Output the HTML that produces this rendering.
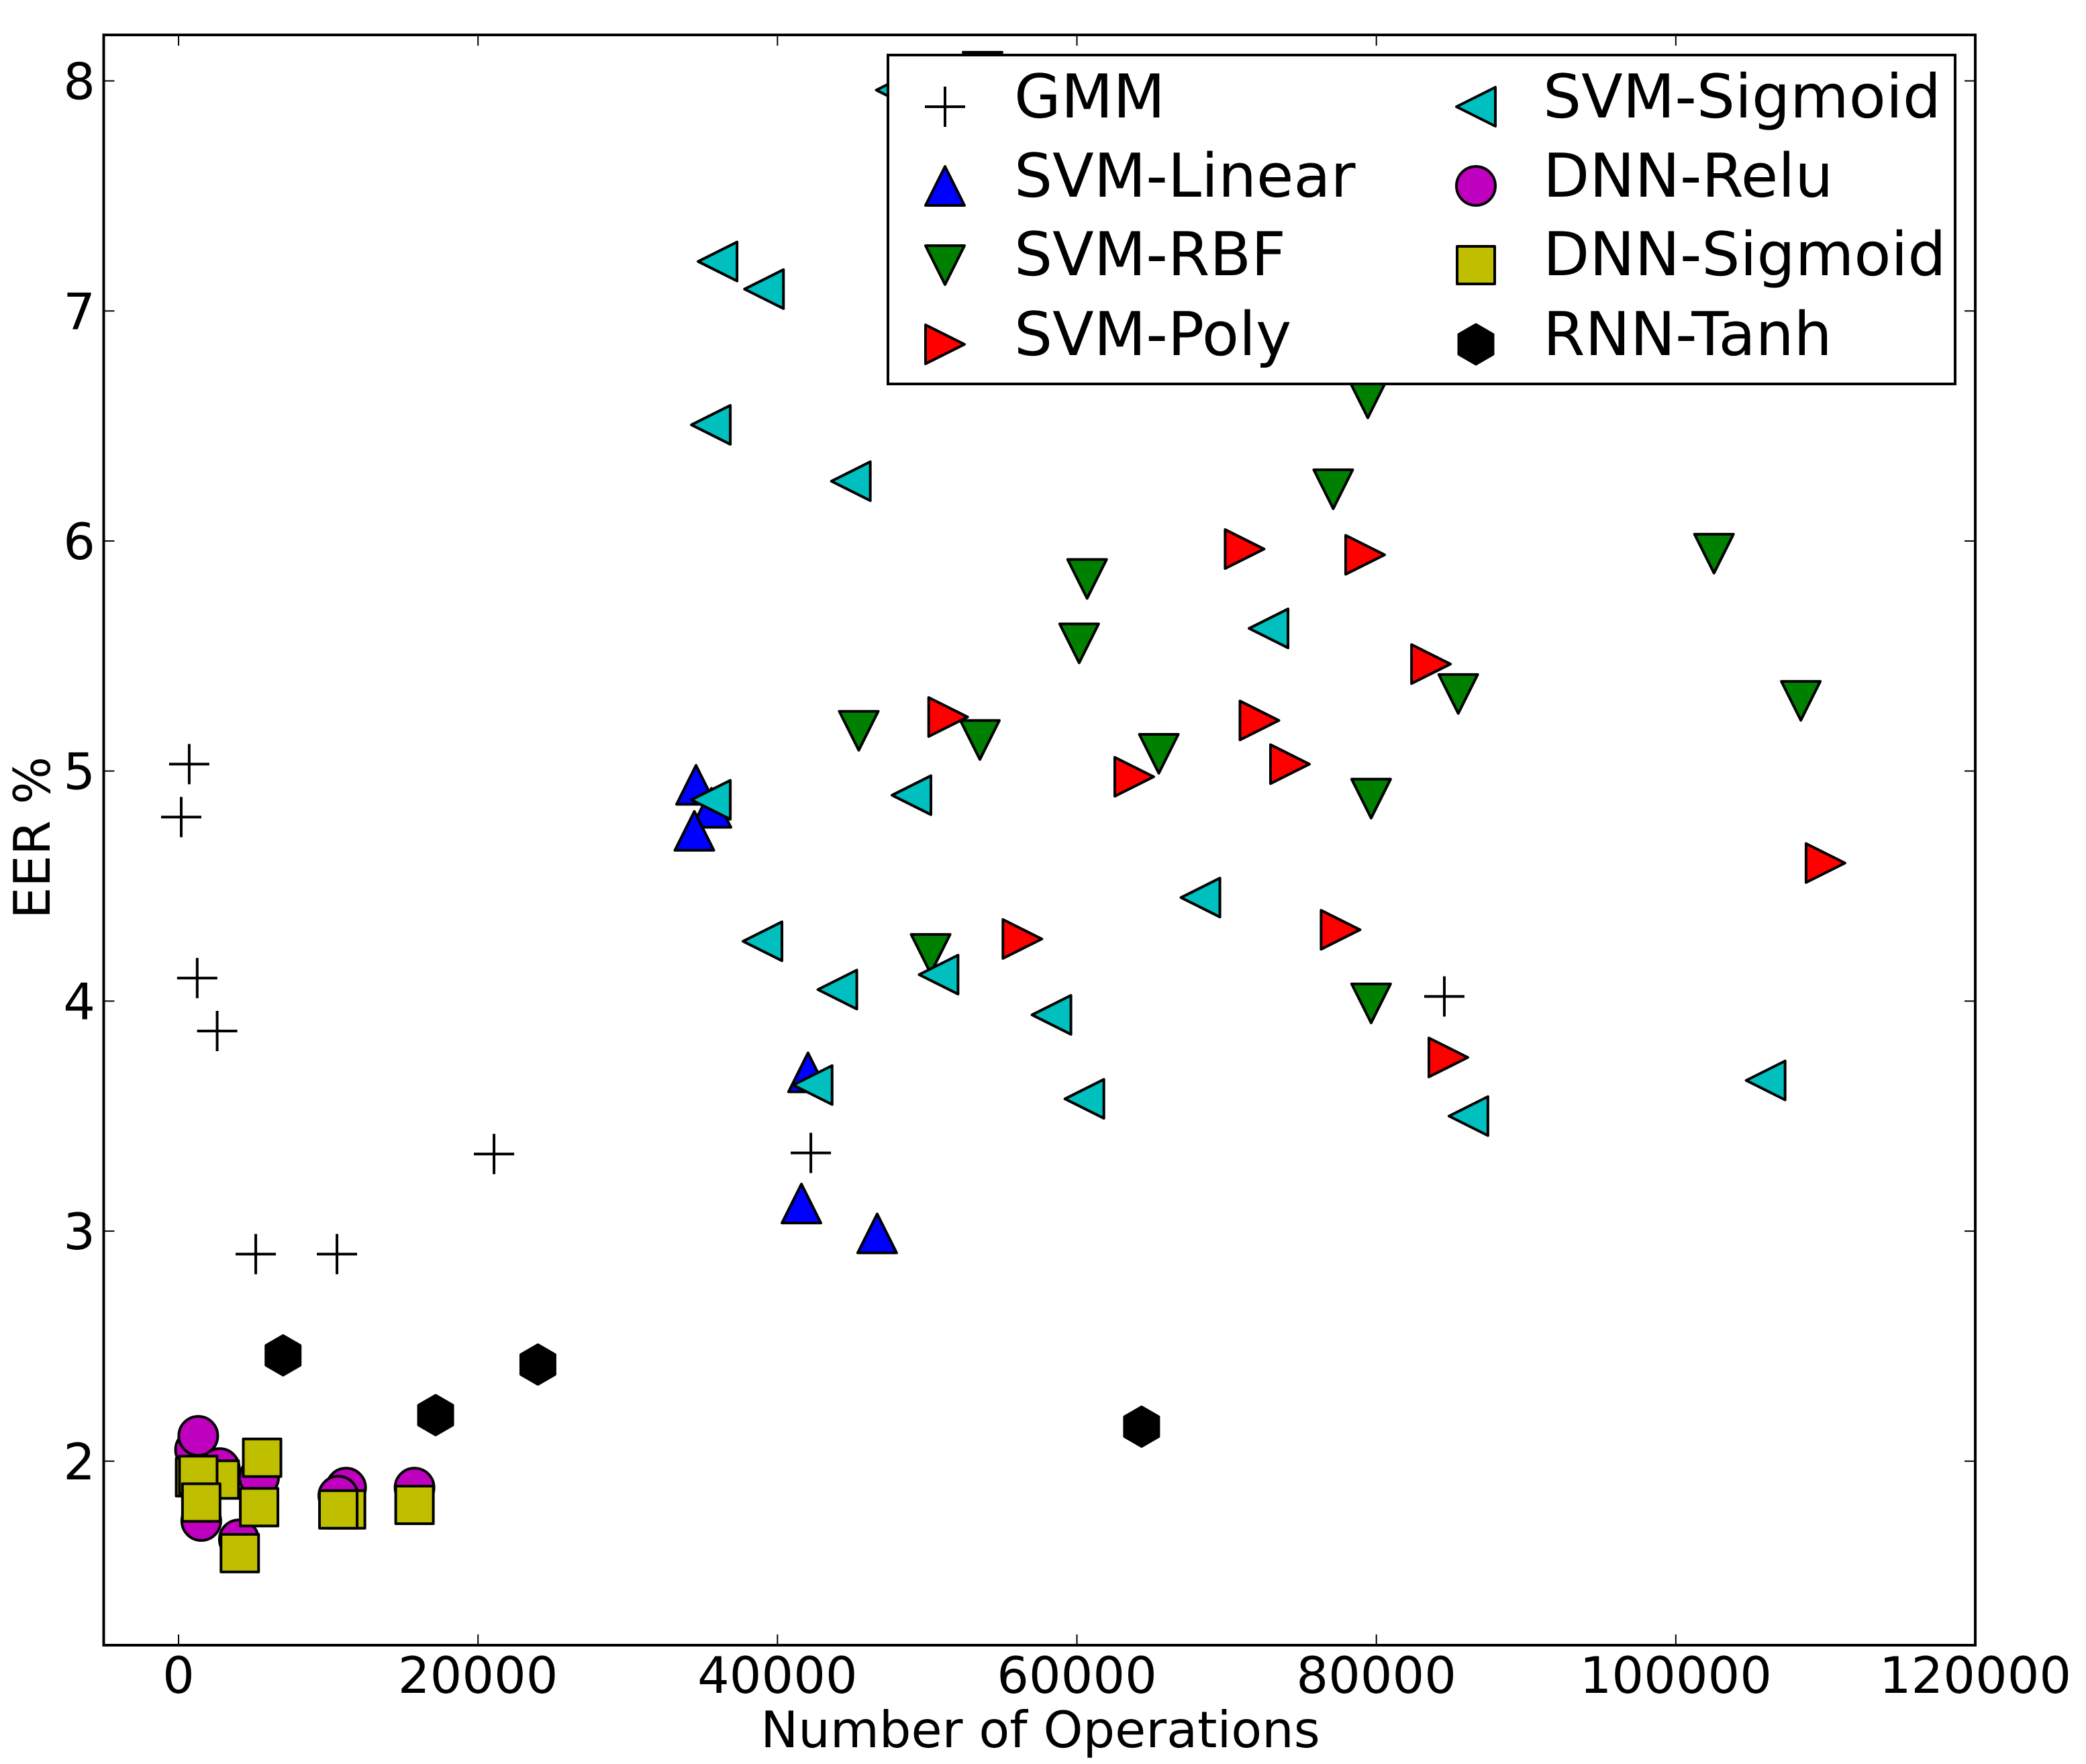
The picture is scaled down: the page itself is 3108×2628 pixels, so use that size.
<!DOCTYPE html>
<html lang="en">
<head>
<meta charset="utf-8">
<title>EER vs Number of Operations</title>
<style>
html,body{margin:0;padding:0;background:#fff;}
svg{display:block;}
text{font-family:"DejaVu Sans","Liberation Sans",sans-serif;fill:#000;text-rendering:geometricPrecision;}
</style>
</head>
<body>
<svg id="chart" xmlns="http://www.w3.org/2000/svg" width="3108" height="2628" viewBox="0 0 3108 2628">
  <rect x="0" y="0" width="3108" height="2628" fill="#fff"/>
  <g id="marks"></g>
  <g id="ticks"></g>
  <rect x="154.5" y="52" width="2788.5" height="2399" fill="none" stroke="#000" stroke-width="4"/>
  <g id="tick-labels" font-size="75"></g>
  <text x="1550" y="2603" font-size="75" text-anchor="middle">Number of Operations</text>
  <text x="74" y="1248" font-size="75" text-anchor="middle" transform="rotate(-90 74 1248)">EER %</text>
  <g id="legend">
    <rect x="1323" y="82" width="1590" height="490" fill="#fff" stroke="#000" stroke-width="4"/>
    <g font-size="90">
      <text x="1511" y="175">GMM</text>
      <text x="1511" y="293">SVM-Linear</text>
      <text x="1511" y="410">SVM-RBF</text>
      <text x="1511" y="529">SVM-Poly</text>
      <text x="2299" y="175">SVM-Sigmoid</text>
      <text x="2299" y="293">DNN-Relu</text>
      <text x="2299" y="410">DNN-Sigmoid</text>
      <text x="2299" y="529">RNN-Tanh</text>
    </g>
  </g>
</svg>
<script>
var xTickValues = [0, 20000, 40000, 60000, 80000, 100000, 120000];
var yTickValues = [2, 3, 4, 5, 6, 7, 8];
var xLimits = [-5000, 120000];
var yLimits = [1.2, 8.2];

var gmmX = [711, 178, 1245, 2578, 5156, 10580, 21070, 42230, 84540];
var gmmY = [5.03, 4.80, 4.10, 3.87, 2.90, 2.90, 3.335, 3.34, 4.02];

var svmLinearX = [34560, 35590, 34450, 42040, 41600, 46660];
var svmLinearY = [4.94, 4.84, 4.74, 3.69, 3.12, 2.99];

var svmRbfX = [53700, 79430, 77120, 60680, 60150, 45430, 53520, 65470, 79650, 50230, 79650, 85470, 102550, 108350];
var svmRbfY = [8.04, 6.62, 6.225, 5.835, 5.555, 5.175, 5.135, 5.075, 4.88, 4.205, 3.99, 5.335, 5.945, 5.305];

var svmPolyX = [71200, 79250, 83650, 51400, 72190, 63830, 74230, 56360, 77610, 84810, 110000];
var svmPolyY = [5.965, 5.94, 5.465, 5.235, 5.22, 4.975, 5.03, 4.27, 4.31, 3.755, 4.60];

var svmSigmoidX = [47900, 36000, 39100, 35550, 44900, 72800, 35550, 48950, 39000, 44000, 50760, 68250, 58300, 60500, 42350, 86150, 106000];
var svmSigmoidY = [7.96, 7.215, 7.095, 6.505, 6.26, 5.62, 4.875, 4.895, 4.26, 4.05, 4.115, 4.45, 3.94, 3.575, 3.635, 3.50, 3.655];

var dnnReluX = [1100, 1316, 2750, 5380, 11190, 10670, 15760, 1516, 4030];
var dnnReluY = [2.05, 2.11, 1.97, 1.93, 1.885, 1.85, 1.885, 1.74, 1.66];

var dnnSigmoidX = [1100, 2750, 1316, 5580, 11190, 10670, 15760, 1516, 5380, 4090];
var dnnSigmoidY = [1.93, 1.92, 1.94, 2.015, 1.79, 1.79, 1.81, 1.82, 1.80, 1.60];

var rnnTanhX = [6980, 17170, 24000, 64320];
var rnnTanhY = [2.46, 2.20, 2.42, 2.15];

var plotLeft = 154.5, plotRight = 2943, plotTop = 52, plotBottom = 2451;
var SVGNS = 'http://www.w3.org/2000/svg';

function xScale(v) {
  return plotLeft + (v - xLimits[0]) * (plotRight - plotLeft) / (xLimits[1] - xLimits[0]);
}
function yScale(v) {
  return plotBottom - (v - yLimits[0]) * (plotBottom - plotTop) / (yLimits[1] - yLimits[0]);
}

function poly(points, cx, cy) {
  var out = [];
  for (var i = 0; i < points.length; i++) {
    out.push((cx + points[i][0]).toFixed(2) + ',' + (cy + points[i][1]).toFixed(2));
  }
  return out.join(' ');
}

function makeMarker(kind, fill, cx, cy, name) {
  var el;
  var r = 29;
  if (kind === 'plus') {
    el = document.createElementNS(SVGNS, 'path');
    el.setAttribute('d', 'M' + (cx - 30) + ' ' + cy + 'H' + (cx + 30) + 'M' + cx + ' ' + (cy - 30) + 'V' + (cy + 30));
    el.setAttribute('fill', 'none');
  } else if (kind === 'circle') {
    el = document.createElementNS(SVGNS, 'circle');
    el.setAttribute('cx', cx);
    el.setAttribute('cy', cy);
    el.setAttribute('r', r);
    el.setAttribute('fill', fill);
  } else if (kind === 'square') {
    el = document.createElementNS(SVGNS, 'rect');
    el.setAttribute('x', cx - 28);
    el.setAttribute('y', cy - 28);
    el.setAttribute('width', 56);
    el.setAttribute('height', 56);
    el.setAttribute('fill', fill);
  } else {
    var pts;
    if (kind === 'up') pts = [[0, -r], [-r, r], [r, r]];
    if (kind === 'down') pts = [[0, r], [-r, -r], [r, -r]];
    if (kind === 'right') pts = [[r, 0], [-r, -r], [-r, r]];
    if (kind === 'left') pts = [[-r, 0], [r, -r], [r, r]];
    if (kind === 'hex') pts = [[0, -29.5], [25.5, -14.75], [25.5, 14.75], [0, 29.5], [-25.5, 14.75], [-25.5, -14.75]];
    el = document.createElementNS(SVGNS, 'polygon');
    el.setAttribute('points', poly(pts, cx, cy));
    el.setAttribute('fill', fill);
  }
  el.setAttribute('stroke', '#000');
  el.setAttribute('stroke-width', 4);
  el.setAttribute('stroke-linejoin', 'round');
  
  
  return el;
}

function drawSeries(kind, fill, xs, ys, name) {
  var marks = document.getElementById('marks');
  var group = document.createElementNS(SVGNS, 'g');
  
  
  for (var i = 0; i < xs.length; i++) {
    group.appendChild(makeMarker(kind, fill, xScale(xs[i]), yScale(ys[i]), name + '-point'));
  }
  marks.appendChild(group);
}

drawSeries('plus', 'none', gmmX, gmmY, 'gmm');
drawSeries('up', '#0000ff', svmLinearX, svmLinearY, 'svm-linear');
drawSeries('down', '#008000', svmRbfX, svmRbfY, 'svm-rbf');
drawSeries('right', '#ff0000', svmPolyX, svmPolyY, 'svm-poly');
drawSeries('left', '#00bfbf', svmSigmoidX, svmSigmoidY, 'svm-sigmoid');
drawSeries('circle', '#bf00bf', dnnReluX, dnnReluY, 'dnn-relu');
drawSeries('square', '#bfbf00', dnnSigmoidX, dnnSigmoidY, 'dnn-sigmoid');
drawSeries('hex', '#000000', rnnTanhX, rnnTanhY, 'rnn-tanh');

function addTick(x1, y1, x2, y2, name) {
  var line = document.createElementNS(SVGNS, 'line');
  line.setAttribute('x1', x1);
  line.setAttribute('y1', y1);
  line.setAttribute('x2', x2);
  line.setAttribute('y2', y2);
  line.setAttribute('stroke', '#000');
  line.setAttribute('stroke-width', 2);
  
  
  document.getElementById('ticks').appendChild(line);
}

function addTickLabel(x, y, anchor, str, name) {
  var t = document.createElementNS(SVGNS, 'text');
  t.setAttribute('x', x);
  t.setAttribute('y', y);
  t.setAttribute('text-anchor', anchor);
  
  
  t.textContent = str;
  document.getElementById('tick-labels').appendChild(t);
}

xTickValues.forEach(function (v) {
  var x = xScale(v);
  addTick(x, plotBottom, x, plotBottom - 16, 'x-tick-bottom');
  addTick(x, plotTop, x, plotTop + 16, 'x-tick-top');
  addTickLabel(x, 2522, 'middle', String(v), 'x-tick-label');
});

yTickValues.forEach(function (v) {
  var y = yScale(v);
  addTick(plotLeft, y, plotLeft + 16, y, 'y-tick-left');
  addTick(plotRight, y, plotRight - 16, y, 'y-tick-right');
  addTickLabel(142, y + 27, 'end', String(v), 'y-tick-label');
});

var legend = document.getElementById('legend');
legend.appendChild(makeMarker('plus', 'none', 1408, 159, 'legend-marker-gmm'));
legend.appendChild(makeMarker('up', '#0000ff', 1408, 277, 'legend-marker-svm-linear'));
legend.appendChild(makeMarker('down', '#008000', 1408, 395, 'legend-marker-svm-rbf'));
legend.appendChild(makeMarker('right', '#ff0000', 1408, 513, 'legend-marker-svm-poly'));
legend.appendChild(makeMarker('left', '#00bfbf', 2199, 159, 'legend-marker-svm-sigmoid'));
legend.appendChild(makeMarker('circle', '#bf00bf', 2199, 277, 'legend-marker-dnn-relu'));
legend.appendChild(makeMarker('square', '#bfbf00', 2199, 395, 'legend-marker-dnn-sigmoid'));
legend.appendChild(makeMarker('hex', '#000000', 2199, 513, 'legend-marker-rnn-tanh'));
</script>
</body>
</html>
